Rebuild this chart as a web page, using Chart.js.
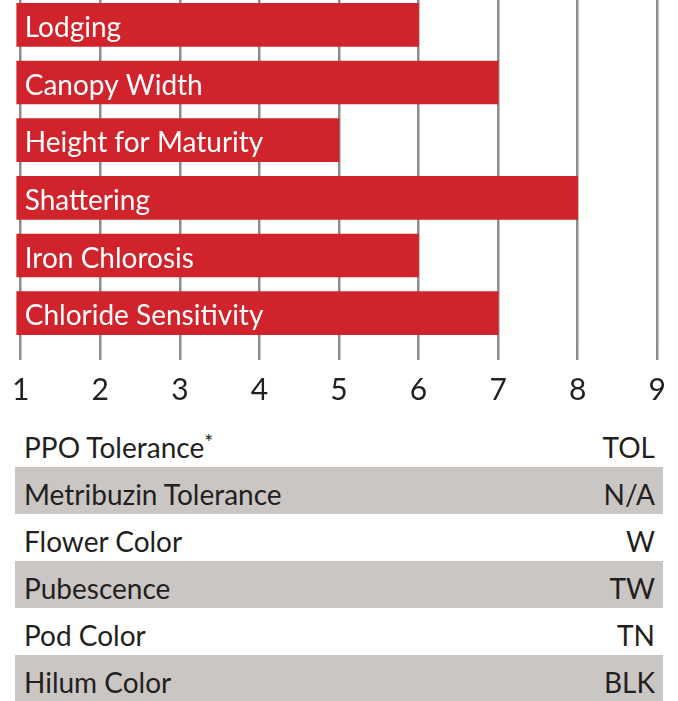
<!DOCTYPE html>
<html>
<head>
<meta charset="utf-8">
<script src="https://cdn.jsdelivr.net/npm/chart.js@4"></script>
<style>
  body { margin: 0; background: #fff; width: 678px; height: 701px; overflow: hidden; }
  #chartBox { position: relative; width: 678px; height: 424px; margin-top: -4px; }
  #traits { margin: 0 0 0 15px; width: 648px; font-family: Lato, sans-serif; font-size: 28px; color: #231f20; }
  .trait-row { display: flex; justify-content: space-between; align-items: flex-end; height: 47px; box-sizing: border-box; padding: 0 8px 6px 9px; line-height: 1; }
  .trait-row.shade { background: #cac6c3; }
  .trait-row sup { font-size: 21px; vertical-align: 8px; line-height: 0; }
</style>
</head>
<body>
<div id="chartBox"><canvas id="traitChart"></canvas></div>
<div id="traits"></div>

<script>
// ── DATOS ────────────────────────────────────────────────────
const CATEGORIES = ['Lodging', 'Canopy Width', 'Height for Maturity', 'Shattering', 'Iron Chlorosis', 'Chloride Sensitivity'];
const SCORES     = [6, 7, 5, 8, 6, 7];
const X_TICKS    = [1, 2, 3, 4, 5, 6, 7, 8, 9];
const TRAIT_NAMES  = ['PPO Tolerance', 'Metribuzin Tolerance', 'Flower Color', 'Pubescence', 'Pod Color', 'Hilum Color'];
const TRAIT_VALUES = ['TOL', 'N/A', 'W', 'TW', 'TN', 'BLK'];
const TRAIT_NOTES  = ['*', '', '', '', '', ''];

const BAR_RED = '#d0232b';
const TEXT_DARK = '#231f20';

// ── ETIQUETAS DENTRO DE LAS BARRAS ───────────────────────────
const barLabels = {
  id: 'barLabels',
  afterDatasetsDraw(chart) {
    const { ctx } = chart;
    const meta = chart.getDatasetMeta(0);
    ctx.save();
    ctx.fillStyle = '#fff';
    ctx.font = '28px Lato';
    ctx.textAlign = 'left';
    ctx.textBaseline = 'alphabetic';
    meta.data.forEach((bar, i) => {
      ctx.fillText(CATEGORIES[i], bar.base + 8, bar.y + 12);
    });
    ctx.restore();
  }
};

new Chart(document.getElementById('traitChart'), {
  type: 'bar',
  data: {
    labels: CATEGORIES,
    datasets: [{
      data: SCORES,
      base: 0.95,          // la barra arranca un poco antes del 1
      clip: false,
      backgroundColor: BAR_RED,
      borderWidth: 0,
      barThickness: 43,
    }]
  },
  options: {
    indexAxis: 'y',
    responsive: true,
    maintainAspectRatio: false,
    animation: false,
    layout: { padding: { left: 14, right: 20, top: 0, bottom: 0 } },
    plugins: { legend: { display: false }, tooltip: { enabled: false } },
    scales: {
      x: {
        type: 'linear',
        min: 1,
        max: 9,
        afterBuildTicks: axis => { axis.ticks = X_TICKS.map(v => ({ value: v })); },
        border: { display: false },
        grid: { color: '#8c8c8c', lineWidth: 2.5, drawTicks: true, tickLength: 18 },
        ticks: { color: TEXT_DARK, font: { family: 'Lato', size: 30 }, padding: 12, maxRotation: 0 }
      },
      y: { display: false }
    }
  },
  plugins: [barLabels]
});

// ── TABLA DE RASGOS ──────────────────────────────────────────
document.getElementById('traits').innerHTML = TRAIT_NAMES.map((name, i) => `
  <div class="trait-row${i % 2 ? ' shade' : ''}">
    <span>${name}${TRAIT_NOTES[i] ? `<sup>${TRAIT_NOTES[i]}</sup>` : ''}</span>
    <span>${TRAIT_VALUES[i]}</span>
  </div>`).join('');
</script>
</body>
</html>
